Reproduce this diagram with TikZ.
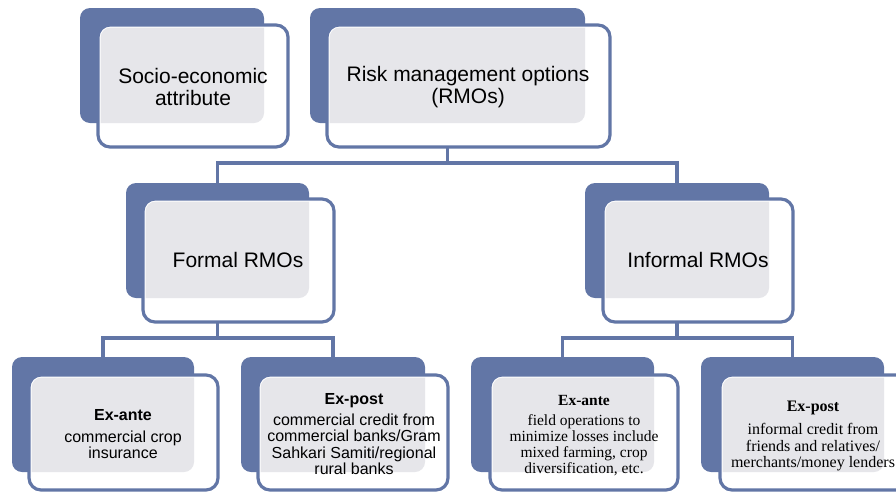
\documentclass[tikz,border=0pt]{standalone}
\usepackage{fontspec}
\setmainfont{Liberation Sans}
\newfontfamily\rmoserif{Liberation Serif}
\definecolor{rmoblue}{HTML}{6276A6}
\definecolor{rmogray}{HTML}{E6E6EA}
\tikzset{
  backbox/.style={rectangle, rounded corners=10pt, fill=rmoblue, inner sep=0pt, outer sep=0pt},
  frontbox/.style={rectangle, rounded corners=12pt, fill=white, draw=rmoblue, line width=3.2pt, inner sep=0pt, outer sep=0pt},
  conn/.style={draw=rmoblue, line width=3.2pt},
  bigtext/.style={align=center, font=\fontsize{21}{22}\selectfont, text=black, inner sep=0pt},
  smalltext/.style={align=center, font=\fontsize{16}{16.3}\selectfont, text=black, inner sep=0pt},
  sertext/.style={align=center, font=\rmoserif\fontsize{15.5}{16.3}\selectfont, text=black, inner sep=0pt},
}
% #1 name, #2-#5 back rect, #6-#9 front rect
\newcommand{\rmobox}[9]{%
  \pgfmathsetmacro\rmoBW{#4-#2}\pgfmathsetmacro\rmoBH{#5-#3}%
  \pgfmathsetmacro\rmoBX{(#2+#4)/2}\pgfmathsetmacro\rmoBY{(#3+#5)/2}%
  \pgfmathsetmacro\rmoFW{#8-#6}\pgfmathsetmacro\rmoFH{#9-#7}%
  \pgfmathsetmacro\rmoFX{(#6+#8)/2}\pgfmathsetmacro\rmoFY{(#7+#9)/2}%
  \pgfmathsetmacro\rmoGa{#6+2.6}\pgfmathsetmacro\rmoGb{#7+2.6}%
  \pgfmathsetmacro\rmoGc{#8-2.6}\pgfmathsetmacro\rmoGd{#9-2.6}%
  \node[backbox, minimum width=\rmoBW pt, minimum height=\rmoBH pt] (#1b) at (\rmoBX,\rmoBY) {};
  \node[frontbox, minimum width=\rmoFW pt, minimum height=\rmoFH pt] (#1f) at (\rmoFX,\rmoFY) {};
  \begin{scope}
    \clip[rounded corners=10pt] (#2,#3) rectangle (#4,#5);
    \fill[rmogray, rounded corners=10pt] (\rmoGa,\rmoGb) rectangle (\rmoGc,\rmoGd);
  \end{scope}
}
\begin{document}
\begin{tikzpicture}[x=1pt, y=-1pt]
\useasboundingbox (0,0) rectangle (896,493);
\clip (0,0) rectangle (896,493);

\rmobox{se}{80}{8}{264}{123}{98}{25}{288}{147}
\rmobox{rm}{310}{8}{585}{123}{327}{25}{610}{147}
\rmobox{fo}{126}{183}{309}{298}{143}{199}{334}{322}
\rmobox{in}{585}{183}{769}{298}{603}{199}{793}{322}
\rmobox{fa}{12}{357}{194}{472}{29}{375}{218}{490}
\rmobox{fp}{241}{357}{425}{472}{258}{375}{448}{490}
\rmobox{ia}{471}{357}{654}{472}{490}{375}{678}{490}
\rmobox{ip}{701}{357}{884}{472}{720}{375}{910}{490}

% connectors
\draw[conn] (rmb.south |- rmf.south) -- ++(0,16) -| (fob.north);
\draw[conn] (rmb.south |- rmf.south) -- ++(0,16) -| (inb.north);
\draw[conn] (fob.south |- fof.south) -- ++(0,16) -| (fab.north);
\draw[conn] (fob.south |- fof.south) -- ++(0,16) -| (fpb.north);
\draw[conn] (inb.south |- inf.south) -- ++(0,16) -| (iab.north);
\draw[conn] (inb.south |- inf.south) -- ++(0,16) -| (ipb.north);

% texts
\node[bigtext] (set) at (193,87) {Socio-economic\\attribute};
\node[bigtext] (rmt) at (468,87) {Risk management options\\(RMOs)};
\node[bigtext] (fot) at (238,260) {Formal RMOs};
\node[bigtext] (intt) at (698,260) {Informal RMOs};
\node[smalltext] (fat) at (123,434) {\textbf{Ex-ante}\\[6pt]commercial crop\\insurance};
\node[smalltext] (fpt) at (354,434) {\textbf{Ex-post}\\[5pt]commercial credit from\\commercial banks/Gram\\Sahkari Samiti/regional\\rural banks};
\node[sertext] (iat) at (584,436) {\textbf{Ex-ante}\\[3pt]field operations to\\minimize losses include\\mixed farming, crop\\diversification, etc.};
\node[sertext, font=\rmoserif\fontsize{16}{16.3}\selectfont] (ipt) at (813,436) {\textbf{Ex-post}\\[7pt]informal credit from\\friends and relatives/\\merchants/money lenders};
\end{tikzpicture}
\end{document}
